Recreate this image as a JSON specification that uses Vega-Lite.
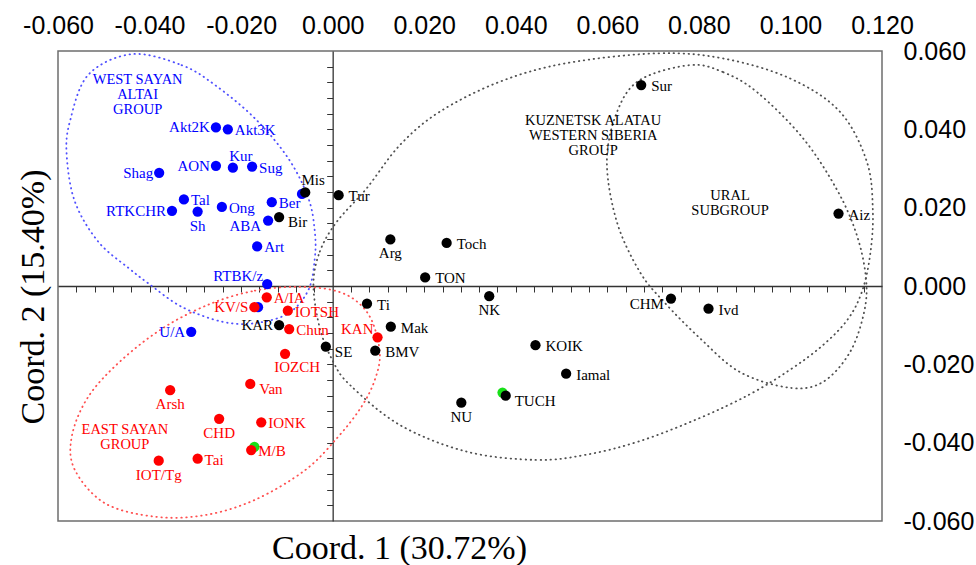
{
  "$schema": "https://vega.github.io/schema/vega-lite/v6.json",
  "width": 824,
  "height": 470,
  "autosize": "none",
  "padding": {"left": 58, "top": 51, "right": 94, "bottom": 44},
  "background": "white",
  "config": {
    "view": {"stroke": "#6e6e6e", "strokeWidth": 1.5},
    "axis": {"grid": false, "labelFlush": false, "labelOverlap": false},
    "text": {"font": "Liberation Serif", "fontSize": 15, "baseline": "middle"}
  },
  "datasets": {
    "pts": [
      {"n": "", "x": -0.0067, "y": 0.0235, "g": "W", "p": ""},
      {"n": "", "x": -0.0163, "y": -0.0054, "g": "W", "p": ""},
      {"n": "", "x": -0.0171, "y": -0.0411, "g": "G", "p": ""},
      {"n": "", "x": 0.0371, "y": -0.0272, "g": "G", "p": ""},
      {"n": "Akt2K", "x": -0.0255, "y": 0.0405, "g": "W", "p": "l"},
      {"n": "Akt3K", "x": -0.0229, "y": 0.0400, "g": "W", "p": "r"},
      {"n": "AON", "x": -0.0255, "y": 0.0307, "g": "W", "p": "l"},
      {"n": "Kur", "x": -0.0218, "y": 0.0302, "g": "W", "p": "a"},
      {"n": "Sug", "x": -0.0176, "y": 0.0305, "g": "W", "p": "r"},
      {"n": "Shag", "x": -0.0379, "y": 0.0289, "g": "W", "p": "l"},
      {"n": "Tal", "x": -0.0325, "y": 0.0221, "g": "W", "p": "r"},
      {"n": "Ber", "x": -0.0133, "y": 0.0214, "g": "W", "p": "r"},
      {"n": "RTKCHR", "x": -0.0351, "y": 0.0192, "g": "W", "p": "l"},
      {"n": "Sh", "x": -0.0295, "y": 0.0190, "g": "W", "p": "b"},
      {"n": "Ong", "x": -0.0242, "y": 0.0202, "g": "W", "p": "r"},
      {"n": "ABA", "x": -0.0141, "y": 0.0167, "g": "W", "p": "lb"},
      {"n": "Art", "x": -0.0165, "y": 0.0101, "g": "W", "p": "r"},
      {"n": "RTBK/z", "x": -0.0143, "y": 0.0005, "g": "W", "p": "la"},
      {"n": "U/A", "x": -0.0309, "y": -0.0117, "g": "W", "p": "l"},
      {"n": "Mis", "x": -0.0060, "y": 0.0239, "g": "K", "p": "a"},
      {"n": "Bir", "x": -0.0117, "y": 0.0176, "g": "K", "p": "rb"},
      {"n": "Tur", "x": 0.0013, "y": 0.0232, "g": "K", "p": "R"},
      {"n": "Arg", "x": 0.0126, "y": 0.0119, "g": "K", "p": "b"},
      {"n": "Toch", "x": 0.0249, "y": 0.0110, "g": "K", "p": "R"},
      {"n": "TON", "x": 0.0202, "y": 0.0022, "g": "K", "p": "R"},
      {"n": "Sur", "x": 0.0674, "y": 0.0513, "g": "K", "p": "R"},
      {"n": "Aiz", "x": 0.1105, "y": 0.0185, "g": "K", "p": "R"},
      {"n": "KAR", "x": -0.0117, "y": -0.0100, "g": "K", "p": "l"},
      {"n": "SE", "x": -0.0015, "y": -0.0155, "g": "K", "p": "rb"},
      {"n": "Ti", "x": 0.0075, "y": -0.0045, "g": "K", "p": "R"},
      {"n": "Mak", "x": 0.0127, "y": -0.0104, "g": "K", "p": "R"},
      {"n": "BMV", "x": 0.0093, "y": -0.0165, "g": "K", "p": "R"},
      {"n": "NU", "x": 0.0281, "y": -0.0298, "g": "K", "p": "b"},
      {"n": "NK", "x": 0.0342, "y": -0.0026, "g": "K", "p": "b"},
      {"n": "CHM", "x": 0.0739, "y": -0.0032, "g": "K", "p": "lb"},
      {"n": "Ivd", "x": 0.0821, "y": -0.0058, "g": "K", "p": "R"},
      {"n": "KOIK", "x": 0.0443, "y": -0.0151, "g": "K", "p": "R"},
      {"n": "Iamal", "x": 0.0510, "y": -0.0224, "g": "K", "p": "R"},
      {"n": "TUCH", "x": 0.0378, "y": -0.0280, "g": "K", "p": "rb"},
      {"n": "A/IA", "x": -0.0144, "y": -0.0029, "g": "E", "p": "r"},
      {"n": "KV/S", "x": -0.0171, "y": -0.0054, "g": "E", "p": "l"},
      {"n": "IOTSH", "x": -0.0098, "y": -0.0063, "g": "E", "p": "r"},
      {"n": "Chun", "x": -0.0095, "y": -0.0110, "g": "E", "p": "r"},
      {"n": "KAN", "x": 0.0098, "y": -0.0131, "g": "E", "p": "la"},
      {"n": "IOZCH", "x": -0.0104, "y": -0.0173, "g": "E", "p": "br"},
      {"n": "Van", "x": -0.0180, "y": -0.0250, "g": "E", "p": "rb"},
      {"n": "Arsh", "x": -0.0355, "y": -0.0266, "g": "E", "p": "b"},
      {"n": "CHD", "x": -0.0248, "y": -0.0339, "g": "E", "p": "b"},
      {"n": "IONK", "x": -0.0156, "y": -0.0348, "g": "E", "p": "r"},
      {"n": "M/B", "x": -0.0178, "y": -0.0419, "g": "E", "p": "r"},
      {"n": "Tai", "x": -0.0295, "y": -0.0441, "g": "E", "p": "r"},
      {"n": "IOT/Tg", "x": -0.0380, "y": -0.0446, "g": "E", "p": "b"}
    ],
    "grp": [
      {"t": "WEST SAYAN\nALTAI\nGROUP", "x": -0.0426, "y": 0.0526, "g": "W"},
      {"t": "KUZNETSK ALATAU\nWESTERN SIBERIA\nGROUP", "x": 0.0569, "y": 0.0421, "g": "K"},
      {"t": "URAL\nSUBGROUP", "x": 0.0868, "y": 0.0229, "g": "K"},
      {"t": "EAST SAYAN\nGROUP", "x": -0.0454, "y": -0.0368, "g": "E"}
    ],
    "ell": [
      {"e": "W", "i": 1, "x": -0.0439, "y": 0.0592},
      {"e": "W", "i": 2, "x": -0.0330, "y": 0.0564},
      {"e": "W", "i": 3, "x": -0.0257, "y": 0.0513},
      {"e": "W", "i": 4, "x": -0.0170, "y": 0.0428},
      {"e": "W", "i": 5, "x": -0.0097, "y": 0.0326},
      {"e": "W", "i": 6, "x": -0.0053, "y": 0.0224},
      {"e": "W", "i": 7, "x": -0.0039, "y": 0.0139},
      {"e": "W", "i": 8, "x": -0.0039, "y": 0.0071},
      {"e": "W", "i": 9, "x": -0.0053, "y": -0.0010},
      {"e": "W", "i": 10, "x": -0.0097, "y": -0.0070},
      {"e": "W", "i": 11, "x": -0.0170, "y": -0.0095},
      {"e": "W", "i": 12, "x": -0.0242, "y": -0.0091},
      {"e": "W", "i": 13, "x": -0.0330, "y": -0.0053},
      {"e": "W", "i": 14, "x": -0.0403, "y": 0.0007},
      {"e": "W", "i": 15, "x": -0.0445, "y": 0.0045},
      {"e": "W", "i": 16, "x": -0.0512, "y": 0.0113},
      {"e": "W", "i": 17, "x": -0.0563, "y": 0.0215},
      {"e": "W", "i": 18, "x": -0.0581, "y": 0.0334},
      {"e": "W", "i": 19, "x": -0.0574, "y": 0.0420},
      {"e": "W", "i": 20, "x": -0.0534, "y": 0.0539},
      {"e": "E", "i": 1, "x": -0.0264, "y": -0.0044},
      {"e": "E", "i": 2, "x": -0.0170, "y": -0.0012},
      {"e": "E", "i": 3, "x": -0.0082, "y": -0.0002},
      {"e": "E", "i": 4, "x": -0.0002, "y": -0.0010},
      {"e": "E", "i": 5, "x": 0.0049, "y": -0.0036},
      {"e": "E", "i": 6, "x": 0.0085, "y": -0.0087},
      {"e": "E", "i": 7, "x": 0.0103, "y": -0.0172},
      {"e": "E", "i": 8, "x": 0.0092, "y": -0.0240},
      {"e": "E", "i": 9, "x": 0.0063, "y": -0.0308},
      {"e": "E", "i": 10, "x": 0.0012, "y": -0.0385},
      {"e": "E", "i": 11, "x": -0.0060, "y": -0.0470},
      {"e": "E", "i": 12, "x": -0.0170, "y": -0.0546},
      {"e": "E", "i": 13, "x": -0.0279, "y": -0.0585},
      {"e": "E", "i": 14, "x": -0.0388, "y": -0.0589},
      {"e": "E", "i": 15, "x": -0.0497, "y": -0.0555},
      {"e": "E", "i": 16, "x": -0.0563, "y": -0.0470},
      {"e": "E", "i": 17, "x": -0.0570, "y": -0.0385},
      {"e": "E", "i": 18, "x": -0.0534, "y": -0.0283},
      {"e": "E", "i": 19, "x": -0.0461, "y": -0.0189},
      {"e": "E", "i": 20, "x": -0.0366, "y": -0.0104},
      {"e": "K", "i": 1, "x": -0.0042, "y": 0.0003},
      {"e": "K", "i": 2, "x": -0.0028, "y": 0.0088},
      {"e": "K", "i": 3, "x": 0.0009, "y": 0.0164},
      {"e": "K", "i": 4, "x": 0.0074, "y": 0.0249},
      {"e": "K", "i": 5, "x": 0.0147, "y": 0.0360},
      {"e": "K", "i": 6, "x": 0.0234, "y": 0.0445},
      {"e": "K", "i": 7, "x": 0.0366, "y": 0.0522},
      {"e": "K", "i": 8, "x": 0.0511, "y": 0.0569},
      {"e": "K", "i": 9, "x": 0.0708, "y": 0.0594},
      {"e": "K", "i": 10, "x": 0.0853, "y": 0.0581},
      {"e": "K", "i": 11, "x": 0.0999, "y": 0.0530},
      {"e": "K", "i": 12, "x": 0.1108, "y": 0.0445},
      {"e": "K", "i": 13, "x": 0.1167, "y": 0.0317},
      {"e": "K", "i": 14, "x": 0.1180, "y": 0.0191},
      {"e": "K", "i": 15, "x": 0.1174, "y": 0.0079},
      {"e": "K", "i": 16, "x": 0.1156, "y": -0.0015},
      {"e": "K", "i": 17, "x": 0.1124, "y": -0.0087},
      {"e": "K", "i": 18, "x": 0.1069, "y": -0.0153},
      {"e": "K", "i": 19, "x": 0.0999, "y": -0.0214},
      {"e": "K", "i": 20, "x": 0.0912, "y": -0.0276},
      {"e": "K", "i": 21, "x": 0.0802, "y": -0.0337},
      {"e": "K", "i": 22, "x": 0.0671, "y": -0.0396},
      {"e": "K", "i": 23, "x": 0.0553, "y": -0.0431},
      {"e": "K", "i": 24, "x": 0.0444, "y": -0.0444},
      {"e": "K", "i": 25, "x": 0.0293, "y": -0.0423},
      {"e": "K", "i": 26, "x": 0.0147, "y": -0.0355},
      {"e": "K", "i": 27, "x": 0.0038, "y": -0.0253},
      {"e": "K", "i": 28, "x": 0.0001, "y": -0.0193},
      {"e": "K", "i": 29, "x": -0.0028, "y": -0.0108},
      {"e": "U", "i": 1, "x": 0.0781, "y": 0.0564},
      {"e": "U", "i": 2, "x": 0.0853, "y": 0.0546},
      {"e": "U", "i": 3, "x": 0.0927, "y": 0.0495},
      {"e": "U", "i": 4, "x": 0.1027, "y": 0.0378},
      {"e": "U", "i": 5, "x": 0.1102, "y": 0.0245},
      {"e": "U", "i": 6, "x": 0.1145, "y": 0.0130},
      {"e": "U", "i": 7, "x": 0.1165, "y": 0.0020},
      {"e": "U", "i": 8, "x": 0.1161, "y": -0.0066},
      {"e": "U", "i": 9, "x": 0.1130, "y": -0.0169},
      {"e": "U", "i": 10, "x": 0.1071, "y": -0.0245},
      {"e": "U", "i": 11, "x": 0.0999, "y": -0.0260},
      {"e": "U", "i": 12, "x": 0.0890, "y": -0.0220},
      {"e": "U", "i": 13, "x": 0.0802, "y": -0.0133},
      {"e": "U", "i": 14, "x": 0.0724, "y": -0.0041},
      {"e": "U", "i": 15, "x": 0.0671, "y": 0.0036},
      {"e": "U", "i": 16, "x": 0.0621, "y": 0.0163},
      {"e": "U", "i": 17, "x": 0.0599, "y": 0.0317},
      {"e": "U", "i": 18, "x": 0.0621, "y": 0.0444},
      {"e": "U", "i": 19, "x": 0.0671, "y": 0.0526}
    ]
  },
  "layer": [
    {
      "data": {"name": "ell"},
      "mark": {"type": "line", "interpolate": "cardinal-closed", "strokeDash": [0.5, 4.5], "strokeWidth": 1.8, "strokeCap": "round"},
      "encoding": {
        "x": {"field": "x", "type": "quantitative", "scale": {"domain": [-0.06, 0.12], "nice": false, "zero": false},
          "axis": {"orient": "top", "values": [-0.06, -0.04, -0.02, 0, 0.02, 0.04, 0.06, 0.08, 0.1, 0.12], "title": null, "ticks": false, "tickSize": 0, "domain": false, "labelPadding": 13, "labelDx": -6, "labelFont": "Liberation Sans", "labelFontSize": 25, "labelColor": "#000000", "labelExpr": "replace(format(datum.value, '.3f'), '\u2212', '-')"}},
        "y": {"field": "y", "type": "quantitative", "scale": {"domain": [-0.06, 0.06], "nice": false, "zero": false},
          "axis": {"orient": "right", "values": [-0.06, -0.04, -0.02, 0, 0.02, 0.04, 0.06], "title": null, "ticks": false, "tickSize": 0, "domain": false, "labelPadding": 21, "labelFont": "Liberation Sans", "labelFontSize": 25, "labelColor": "#000000", "labelExpr": "replace(format(datum.value, '.3f'), '\u2212', '-')"}},
        "detail": {"field": "e"},
        "order": {"field": "i", "type": "quantitative"},
        "stroke": {"field": "e", "type": "nominal", "scale": {"domain": ["W", "E", "K", "U"], "range": ["#5050ff", "#ff5050", "#505050", "#505050"]}, "legend": null}
      }
    },
    {
      "data": {"name": "pts"},
      "mark": {"type": "circle", "size": 105, "opacity": 1},
      "encoding": {
        "x": {"field": "x", "type": "quantitative", "scale": {"domain": [-0.06, 0.12], "nice": false, "zero": false},
          "axis": {"orient": "bottom", "offset": -235, "values": [-0.056, -0.052, -0.048, -0.044, -0.04, -0.036, -0.032, -0.028, -0.024, -0.02, -0.016, -0.012, -0.008, -0.004, 0.004, 0.008, 0.012, 0.016, 0.02, 0.024, 0.028, 0.032, 0.036, 0.04, 0.044, 0.048, 0.052, 0.056, 0.06, 0.064, 0.068, 0.072, 0.076, 0.08, 0.084, 0.088, 0.092, 0.096, 0.1, 0.104, 0.108, 0.112, 0.116], "labels": false, "tickSize": 6, "tickColor": "#333333", "tickWidth": 1, "domainColor": "#333333", "domainWidth": 1.3, "title": "Coord. 1 (30.72%)", "titleX": 341, "titleY": 272, "titleAlign": "center", "titleBaseline": "alphabetic", "titleFont": "Liberation Serif", "titleFontSize": 34, "titleFontWeight": "normal", "titleColor": "#000000", "titleAngle": 0}},
        "y": {"field": "y", "type": "quantitative", "scale": {"domain": [-0.06, 0.06], "nice": false, "zero": false},
          "axis": {"orient": "left", "offset": -274.67, "values": [-0.056, -0.052, -0.048, -0.044, -0.04, -0.036, -0.032, -0.028, -0.024, -0.02, -0.016, -0.012, -0.008, -0.004, 0.004, 0.008, 0.012, 0.016, 0.02, 0.024, 0.028, 0.032, 0.036, 0.04, 0.044, 0.048, 0.052, 0.056], "labels": false, "tickSize": 6, "tickColor": "#333333", "tickWidth": 1, "domainColor": "#333333", "domainWidth": 1.3, "title": "Coord. 2 (15.40%)", "titleX": -289, "titleY": 245.5, "titleAngle": 270, "titleAlign": "center", "titleBaseline": "alphabetic", "titleFont": "Liberation Serif", "titleFontSize": 34, "titleFontWeight": "normal", "titleColor": "#000000"}},
        "color": {"field": "g", "type": "nominal", "scale": {"domain": ["W", "E", "K", "G"], "range": ["#0000ff", "#ff0000", "#000000", "#18e018"]}, "legend": null}
      }
    },
    {
      "data": {"name": "pts"},
      "transform": [{"filter": "datum.p === 'r'"}],
      "mark": {"type": "text", "align": "left", "dx": 7, "dy": 1},
      "encoding": {"x": {"field": "x", "type": "quantitative", "axis": null}, "y": {"field": "y", "type": "quantitative", "axis": null}, "text": {"field": "n"}, "color": {"field": "g", "type": "nominal", "legend": null}}
    },
    {
      "data": {"name": "pts"},
      "transform": [{"filter": "datum.p === 'R'"}],
      "mark": {"type": "text", "align": "left", "dx": 10, "dy": 1},
      "encoding": {"x": {"field": "x", "type": "quantitative", "axis": null}, "y": {"field": "y", "type": "quantitative", "axis": null}, "text": {"field": "n"}, "color": {"field": "g", "type": "nominal", "legend": null}}
    },
    {
      "data": {"name": "pts"},
      "transform": [{"filter": "datum.p === 'rb'"}],
      "mark": {"type": "text", "align": "left", "dx": 9, "dy": 5},
      "encoding": {"x": {"field": "x", "type": "quantitative", "axis": null}, "y": {"field": "y", "type": "quantitative", "axis": null}, "text": {"field": "n"}, "color": {"field": "g", "type": "nominal", "legend": null}}
    },
    {
      "data": {"name": "pts"},
      "transform": [{"filter": "datum.p === 'l'"}],
      "mark": {"type": "text", "align": "right", "dx": -6, "dy": 0},
      "encoding": {"x": {"field": "x", "type": "quantitative", "axis": null}, "y": {"field": "y", "type": "quantitative", "axis": null}, "text": {"field": "n"}, "color": {"field": "g", "type": "nominal", "legend": null}}
    },
    {
      "data": {"name": "pts"},
      "transform": [{"filter": "datum.p === 'lb'"}],
      "mark": {"type": "text", "align": "right", "dx": -7, "dy": 5},
      "encoding": {"x": {"field": "x", "type": "quantitative", "axis": null}, "y": {"field": "y", "type": "quantitative", "axis": null}, "text": {"field": "n"}, "color": {"field": "g", "type": "nominal", "legend": null}}
    },
    {
      "data": {"name": "pts"},
      "transform": [{"filter": "datum.p === 'la'"}],
      "mark": {"type": "text", "align": "right", "dx": -4, "dy": -8},
      "encoding": {"x": {"field": "x", "type": "quantitative", "axis": null}, "y": {"field": "y", "type": "quantitative", "axis": null}, "text": {"field": "n"}, "color": {"field": "g", "type": "nominal", "legend": null}}
    },
    {
      "data": {"name": "pts"},
      "transform": [{"filter": "datum.p === 'a'"}],
      "mark": {"type": "text", "align": "center", "dx": 8, "dy": -12},
      "encoding": {"x": {"field": "x", "type": "quantitative", "axis": null}, "y": {"field": "y", "type": "quantitative", "axis": null}, "text": {"field": "n"}, "color": {"field": "g", "type": "nominal", "legend": null}}
    },
    {
      "data": {"name": "pts"},
      "transform": [{"filter": "datum.p === 'b'"}],
      "mark": {"type": "text", "align": "center", "dx": 0, "dy": 14},
      "encoding": {"x": {"field": "x", "type": "quantitative", "axis": null}, "y": {"field": "y", "type": "quantitative", "axis": null}, "text": {"field": "n"}, "color": {"field": "g", "type": "nominal", "legend": null}}
    },
    {
      "data": {"name": "pts"},
      "transform": [{"filter": "datum.p === 'br'"}],
      "mark": {"type": "text", "align": "center", "dx": 12, "dy": 13},
      "encoding": {"x": {"field": "x", "type": "quantitative", "axis": null}, "y": {"field": "y", "type": "quantitative", "axis": null}, "text": {"field": "n"}, "color": {"field": "g", "type": "nominal", "legend": null}}
    },
    {
      "data": {"name": "grp"},
      "mark": {"type": "text", "align": "center", "fontSize": 14.5, "lineHeight": 15, "lineBreak": "\n"},
      "encoding": {"x": {"field": "x", "type": "quantitative", "axis": null}, "y": {"field": "y", "type": "quantitative", "axis": null}, "text": {"field": "t"}, "color": {"field": "g", "type": "nominal", "legend": null}}
    }
  ],
  "resolve": {"axis": {"x": "independent", "y": "independent"}}
}
